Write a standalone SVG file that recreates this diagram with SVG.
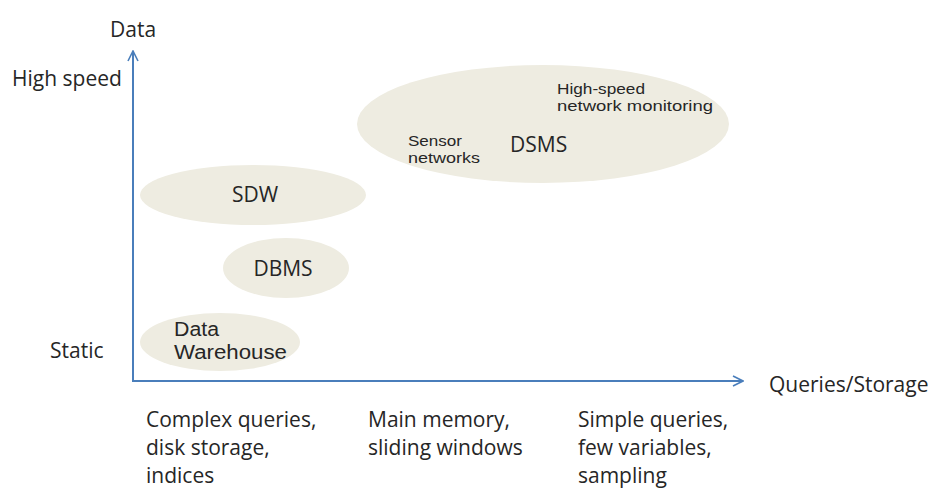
<svg xmlns="http://www.w3.org/2000/svg" width="934" height="497" viewBox="0 0 934 497">
<style>
.bg{fill:#fff}
.ell{fill:#EEECE1;stroke:none}
.t{font-family:"Open Sans","Noto Sans","Liberation Sans",sans-serif;font-size:21px;fill:#262626}
.tl{font-family:"Liberation Sans","Noto Sans",sans-serif;font-size:20px;fill:#262626}
.s{font-family:"Liberation Sans","Noto Sans",sans-serif;font-size:15px;fill:#262626}
.ax{stroke:#4A7EBB;stroke-width:2;fill:none}
</style>
<defs>
<marker id="arr" viewBox="0 0 12 12" refX="11" refY="6" markerWidth="12" markerHeight="12" markerUnits="userSpaceOnUse" orient="auto">
<path d="M1,1 L11,6 L1,11" fill="none" stroke="#4A7EBB" stroke-width="1.6"/>
</marker>
</defs>
<rect class="bg" x="0" y="0" width="934" height="497"/>
<g id="dsms">
<ellipse class="ell" cx="543" cy="124" rx="186" ry="59"/>
<text class="t" x="510" y="152">DSMS</text>
<text class="s" x="408" y="146" textLength="54" lengthAdjust="spacingAndGlyphs">Sensor</text>
<text class="s" x="408" y="163" textLength="72" lengthAdjust="spacingAndGlyphs">networks</text>
<text class="s" x="557" y="94" textLength="88" lengthAdjust="spacingAndGlyphs">High-speed</text>
<text class="s" x="557" y="111" textLength="156" lengthAdjust="spacingAndGlyphs">network monitoring</text>
</g>
<g id="sdw">
<ellipse class="ell" cx="253" cy="195" rx="113" ry="30"/>
<text class="t" x="255" y="202" text-anchor="middle">SDW</text>
</g>
<g id="dbms">
<ellipse class="ell" cx="286" cy="268" rx="63" ry="30"/>
<text class="t" x="283" y="276" text-anchor="middle">DBMS</text>
</g>
<g id="dw">
<ellipse class="ell" cx="220" cy="342" rx="80" ry="29"/>
<text class="tl" x="174" y="336" textLength="45" lengthAdjust="spacingAndGlyphs">Data</text>
<text class="tl" x="174" y="359" textLength="113" lengthAdjust="spacingAndGlyphs">Warehouse</text>
</g>
<g id="connectors">
<line class="ax" x1="133" y1="382" x2="133" y2="51" marker-end="url(#arr)"/>
<line class="ax" x1="132" y1="381" x2="743" y2="381" marker-end="url(#arr)"/>
</g>
<g id="labels">
<text class="t" x="110" y="37">Data</text>
<text class="t" x="12" y="86">High speed</text>
<text class="t" x="50" y="358">Static</text>
<text class="t" x="769" y="392">Queries/Storage</text>
<text class="t"><tspan x="146" y="427">Complex queries,</tspan><tspan x="146" y="455">disk storage,</tspan><tspan x="146" y="483">indices</tspan></text>
<text class="t"><tspan x="368" y="427">Main memory,</tspan><tspan x="368" y="455">sliding windows</tspan></text>
<text class="t"><tspan x="578" y="427">Simple queries,</tspan><tspan x="578" y="455">few variables,</tspan><tspan x="578" y="483">sampling</tspan></text>
</g>
</svg>
